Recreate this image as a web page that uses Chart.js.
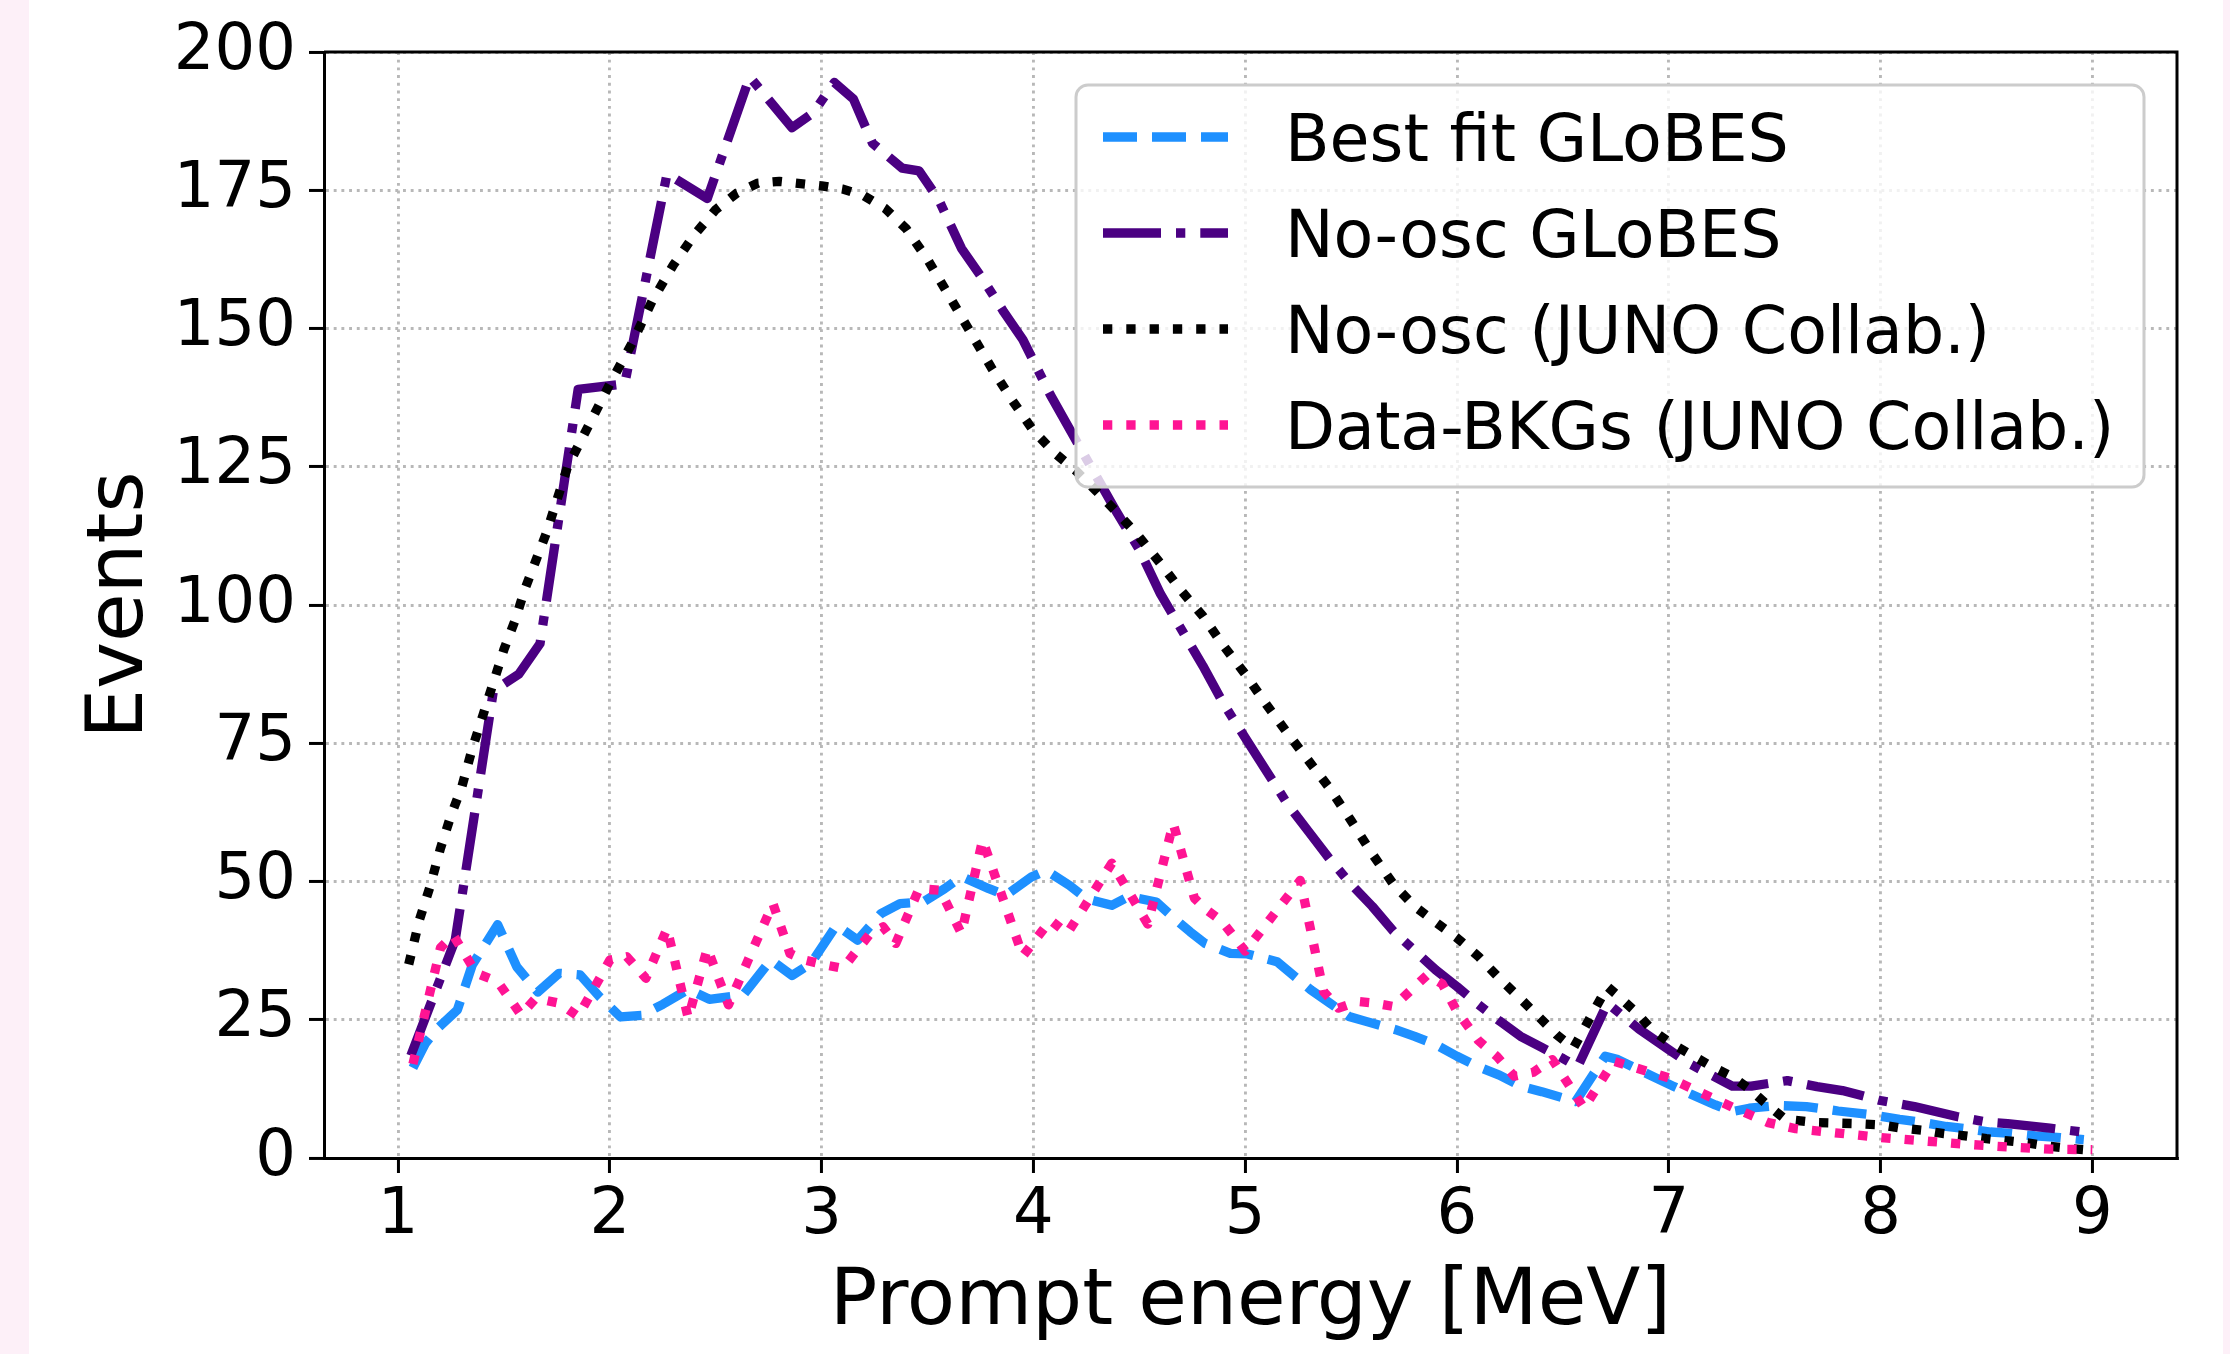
<!DOCTYPE html>
<html>
<head>
<meta charset="utf-8">
<script src="https://cdn.jsdelivr.net/npm/chart.js@4.4.1/dist/chart.umd.min.js"></script>
<style>
  html, body { margin: 0; padding: 0; background: #fdf0f8; }
  #wrap { position: absolute; left: 29px; top: 0; width: 2194px; height: 1354px; background: #fff; }
</style>
</head>
<body>
<div id="wrap"><canvas id="myChart" width="2194" height="1354"></canvas></div>
<script>
// tick labels
const xTicks = [1, 2, 3, 4, 5, 6, 7, 8, 9];
const yTicks = [0, 25, 50, 75, 100, 125, 150, 175, 200];

// Best fit GLoBES
const bestFitE = [1.07,1.13,1.18,1.28,1.35,1.47,1.56,1.66,1.76,1.86,1.95,2.05,2.15,2.25,2.37,2.47,2.63,2.76,2.86,2.95,3.07,3.17,3.28,3.37,3.48,3.58,3.66,3.79,3.87,3.99,4.06,4.17,4.25,4.37,4.45,4.58,4.66,4.74,4.81,4.93,5.01,5.15,5.31,5.40,5.49,5.57,5.71,5.80,5.90,6.00,6.10,6.20,6.30,6.40,6.56,6.70,6.76,6.84,7.02,7.10,7.22,7.30,7.38,7.51,7.65,7.80,7.96,8.09,8.17,8.31,8.40,8.52,8.60,8.73,8.85,8.96];
const bestFitN = [16.3,20.8,23.2,26.8,34.9,42.2,34.6,30.0,33.4,33.1,29.2,25.5,25.8,27.8,30.5,28.7,29.5,35.8,33.0,35.2,42.1,39.4,44.2,46.0,46.3,48.7,50.9,48.7,47.5,50.8,52.0,49.3,46.9,45.7,47.3,46.3,43.5,40.9,38.8,37.0,36.9,35.5,30.4,28.0,25.6,24.7,23.2,22.0,20.5,18.4,16.5,15.0,13.0,12.0,10.2,18.4,17.8,16.3,13.0,11.6,9.6,8.4,9.0,9.5,9.3,8.5,7.8,7.0,6.6,5.7,5.3,4.7,4.5,4.0,3.7,3.3];

// No-osc GLoBES
const noOscGlobesE = [1.06,1.27,1.45,1.57,1.67,1.85,2.07,2.27,2.46,2.66,2.86,2.96,3.06,3.15,3.24,3.38,3.46,3.55,3.66,3.76,3.86,3.95,4.08,4.19,4.39,4.50,4.60,4.70,4.80,4.90,5.00,5.10,5.20,5.30,5.40,5.50,5.60,5.70,5.80,5.90,6.00,6.10,6.20,6.30,6.40,6.50,6.57,6.71,6.86,7.00,7.10,7.20,7.30,7.39,7.56,7.70,7.82,8.00,8.16,8.36,8.50,8.60,8.80,9.00];
const noOscGlobesN = [18.5,39.5,84.5,87.5,93,139,140,178,173.5,195.5,186.3,189,194.5,191.5,183.5,179,178.5,173.5,164.5,159,153,148,138,130.5,117,110,102,95.5,89,82,76,70,64,59,54,49.5,45.5,41,37.5,34,31,27.8,24.8,22,20,18,16.5,28,23.3,19.6,17,15,13,13,14,12.9,12.2,10.4,9.3,7.5,6.5,6.2,5.4,4.5];

// No-osc (JUNO Collab.)
const noOscJunoE = [1.05,1.10,1.15,1.20,1.25,1.30,1.35,1.40,1.45,1.50,1.55,1.60,1.65,1.70,1.80,1.90,2.00,2.10,2.20,2.30,2.40,2.50,2.60,2.70,2.80,2.90,3.00,3.10,3.20,3.30,3.40,3.50,3.60,3.70,3.80,3.90,4.00,4.10,4.20,4.30,4.40,4.50,4.60,4.70,4.80,4.90,5.00,5.10,5.20,5.30,5.40,5.50,5.60,5.70,5.80,5.90,6.00,6.10,6.20,6.30,6.40,6.47,6.55,6.71,6.77,6.85,6.92,7.00,7.10,7.20,7.30,7.38,7.46,7.55,7.70,7.90,8.00,8.10,8.20,8.30,8.40,8.50,8.60,8.70,8.80,8.90,9.00];
const noOscJunoN = [35,43,49,56,62,67,74,80,86,92,97,103,108,113,125,132.5,140,147,155,161.5,167,171.5,174.5,176.3,176.6,176.2,175.8,175.2,174,171.7,168,162.5,156,149.5,143,137,131.5,127.5,124.3,120.5,116.5,112.3,107.5,102.5,98,92.5,87.5,82,76.8,71.8,66.8,61,55,49.5,45.5,42.6,39.8,36.5,32.5,28.8,25,22.3,19.9,31,29,26.2,23.2,21,18.8,16.6,14.7,12.5,9.8,7,6.4,6.2,6.0,5.4,5.0,4.4,4.0,3.5,3.1,2.7,2.1,1.7,1.4];

// Data-BKGs (JUNO Collab.)
const dataBkgE = [1.07,1.20,1.26,1.37,1.47,1.58,1.65,1.76,1.85,2.00,2.08,2.17,2.27,2.37,2.46,2.56,2.77,2.85,2.92,3.02,3.10,3.23,3.29,3.35,3.46,3.56,3.66,3.76,3.95,4.08,4.16,4.37,4.54,4.66,4.76,4.81,4.89,5.00,5.26,5.37,5.44,5.53,5.61,5.70,5.86,5.93,6.00,6.10,6.19,6.27,6.36,6.45,6.60,6.74,7.00,7.30,7.47,7.60,7.80,8.00,8.20,8.40,8.60,8.80,9.00];
const dataBkgN = [17,38,40.3,33.4,31.9,25.9,28.9,28,25.6,35.8,36.4,32.5,41.5,25.3,37.9,27.7,46,37,35.8,34.9,34.3,40.6,41.8,38.8,48.7,48.4,40.6,57.5,36.5,43,40.6,53.3,42.3,60.5,47,45.1,42.8,37.4,50.2,30.1,27.1,28.3,28,27.4,33.1,31.5,26.5,21.3,18.3,14.8,15.5,17.8,9,17.5,14.5,9.2,6.4,5.3,4.5,3.7,3.1,2.5,2.0,1.6,1.5];

const FONT = '"DejaVu Sans", sans-serif';
const LW = 9.3;

function pts(xs, ys) {
  return xs.map((x, i) => ({x: x, y: ys[i]}));
}

// full frame and the boxed legend, as matplotlib draws them
const frameAndLegend = {
  id: 'frameAndLegend',
  afterDraw(chart) {
    const ctx = chart.ctx;
    const a = chart.chartArea;
    ctx.save();
    ctx.strokeStyle = '#000';
    ctx.lineWidth = 3;
    ctx.beginPath();
    ctx.moveTo(a.left, a.top);
    ctx.lineTo(a.right, a.top);
    ctx.lineTo(a.right, a.bottom);
    ctx.stroke();

    const bx = 1047, by = 85, bw = 1068, bh = 402;
    ctx.beginPath();
    ctx.roundRect(bx, by, bw, bh, 12);
    ctx.fillStyle = 'rgba(255,255,255,0.8)';
    ctx.fill();
    ctx.strokeStyle = '#cccccc';
    ctx.lineWidth = 3;
    ctx.stroke();

    ctx.font = '65px ' + FONT;
    ctx.textBaseline = 'alphabetic';
    chart.data.datasets.forEach((ds, i) => {
      const ly = 137 + i * 96;
      ctx.save();
      ctx.setLineDash(ds.borderDash);
      ctx.strokeStyle = ds.borderColor;
      ctx.lineWidth = ds.borderWidth;
      ctx.lineCap = 'butt';
      ctx.beginPath();
      ctx.moveTo(1074, ly);
      ctx.lineTo(1199, ly);
      ctx.stroke();
      ctx.restore();
      ctx.fillStyle = '#000';
      ctx.fillText(ds.label, 1256, ly + 24);
    });
    ctx.restore();
  }
};

Chart.defaults.color = '#000';
Chart.defaults.font.family = FONT;

const ctx = document.getElementById('myChart').getContext('2d');
new Chart(ctx, {
  type: 'line',
  data: {
    datasets: [
      { label: 'Best fit GLoBES', data: pts(bestFitE, bestFitN), borderColor: '#1e90ff',
        borderWidth: LW, borderDash: [34, 15], order: 4 },
      { label: 'No-osc GLoBES', data: pts(noOscGlobesE, noOscGlobesN), borderColor: '#4b0082',
        borderWidth: LW, borderDash: [58, 15, 9.3, 15], order: 3 },
      { label: 'No-osc (JUNO Collab.)', data: pts(noOscJunoE, noOscJunoN), borderColor: '#000000',
        borderWidth: LW, borderDash: [9.3, 14], order: 2 },
      { label: 'Data-BKGs (JUNO Collab.)', data: pts(dataBkgE, dataBkgN), borderColor: '#ff1493',
        borderWidth: LW, borderDash: [9.3, 14], order: 1 }
    ]
  },
  options: {
    responsive: false,
    animation: false,
    devicePixelRatio: 1,
    layout: { padding: { top: 52, right: 46, bottom: 0, left: 0 } },
    elements: {
      line: { tension: 0, fill: false, borderJoinStyle: 'round', borderCapStyle: 'butt' },
      point: { radius: 0, hoverRadius: 0 }
    },
    plugins: { legend: { display: false }, tooltip: { enabled: false } },
    scales: {
      x: {
        type: 'linear',
        min: 0.65,
        max: 9.4,
        afterBuildTicks: (scale) => { scale.ticks = xTicks.map(v => ({value: v})); },
        afterFit: (scale) => { scale.height = 196; },
        ticks: { font: { size: 64 }, padding: 5, maxRotation: 0, callback: (v) => String(v) },
        grid: { color: '#b8b8b8', lineWidth: 2.9, tickLength: 15, tickColor: '#000', tickWidth: 3, tickBorderDash: [] },
        border: { display: true, color: '#000', width: 3, dash: [2.9, 4.8] },
        title: { display: true, text: 'Prompt energy [MeV]', font: { size: 79 }, padding: { top: 0, bottom: 3 } }
      },
      y: {
        min: 0,
        max: 200,
        afterBuildTicks: (scale) => { scale.ticks = yTicks.map(v => ({value: v})); },
        afterFit: (scale) => { scale.width = 295; },
        ticks: { font: { size: 64 }, padding: 13, callback: (v) => String(v) },
        grid: { color: '#b8b8b8', lineWidth: 2.9, tickLength: 15, tickColor: '#000', tickWidth: 3, tickBorderDash: [] },
        border: { display: true, color: '#000', width: 3, dash: [2.9, 4.8] },
        title: { display: true, text: 'Events', font: { size: 79 }, padding: { top: 45, bottom: 0 } }
      }
    }
  },
  plugins: [frameAndLegend]
});
</script>
</body>
</html>
